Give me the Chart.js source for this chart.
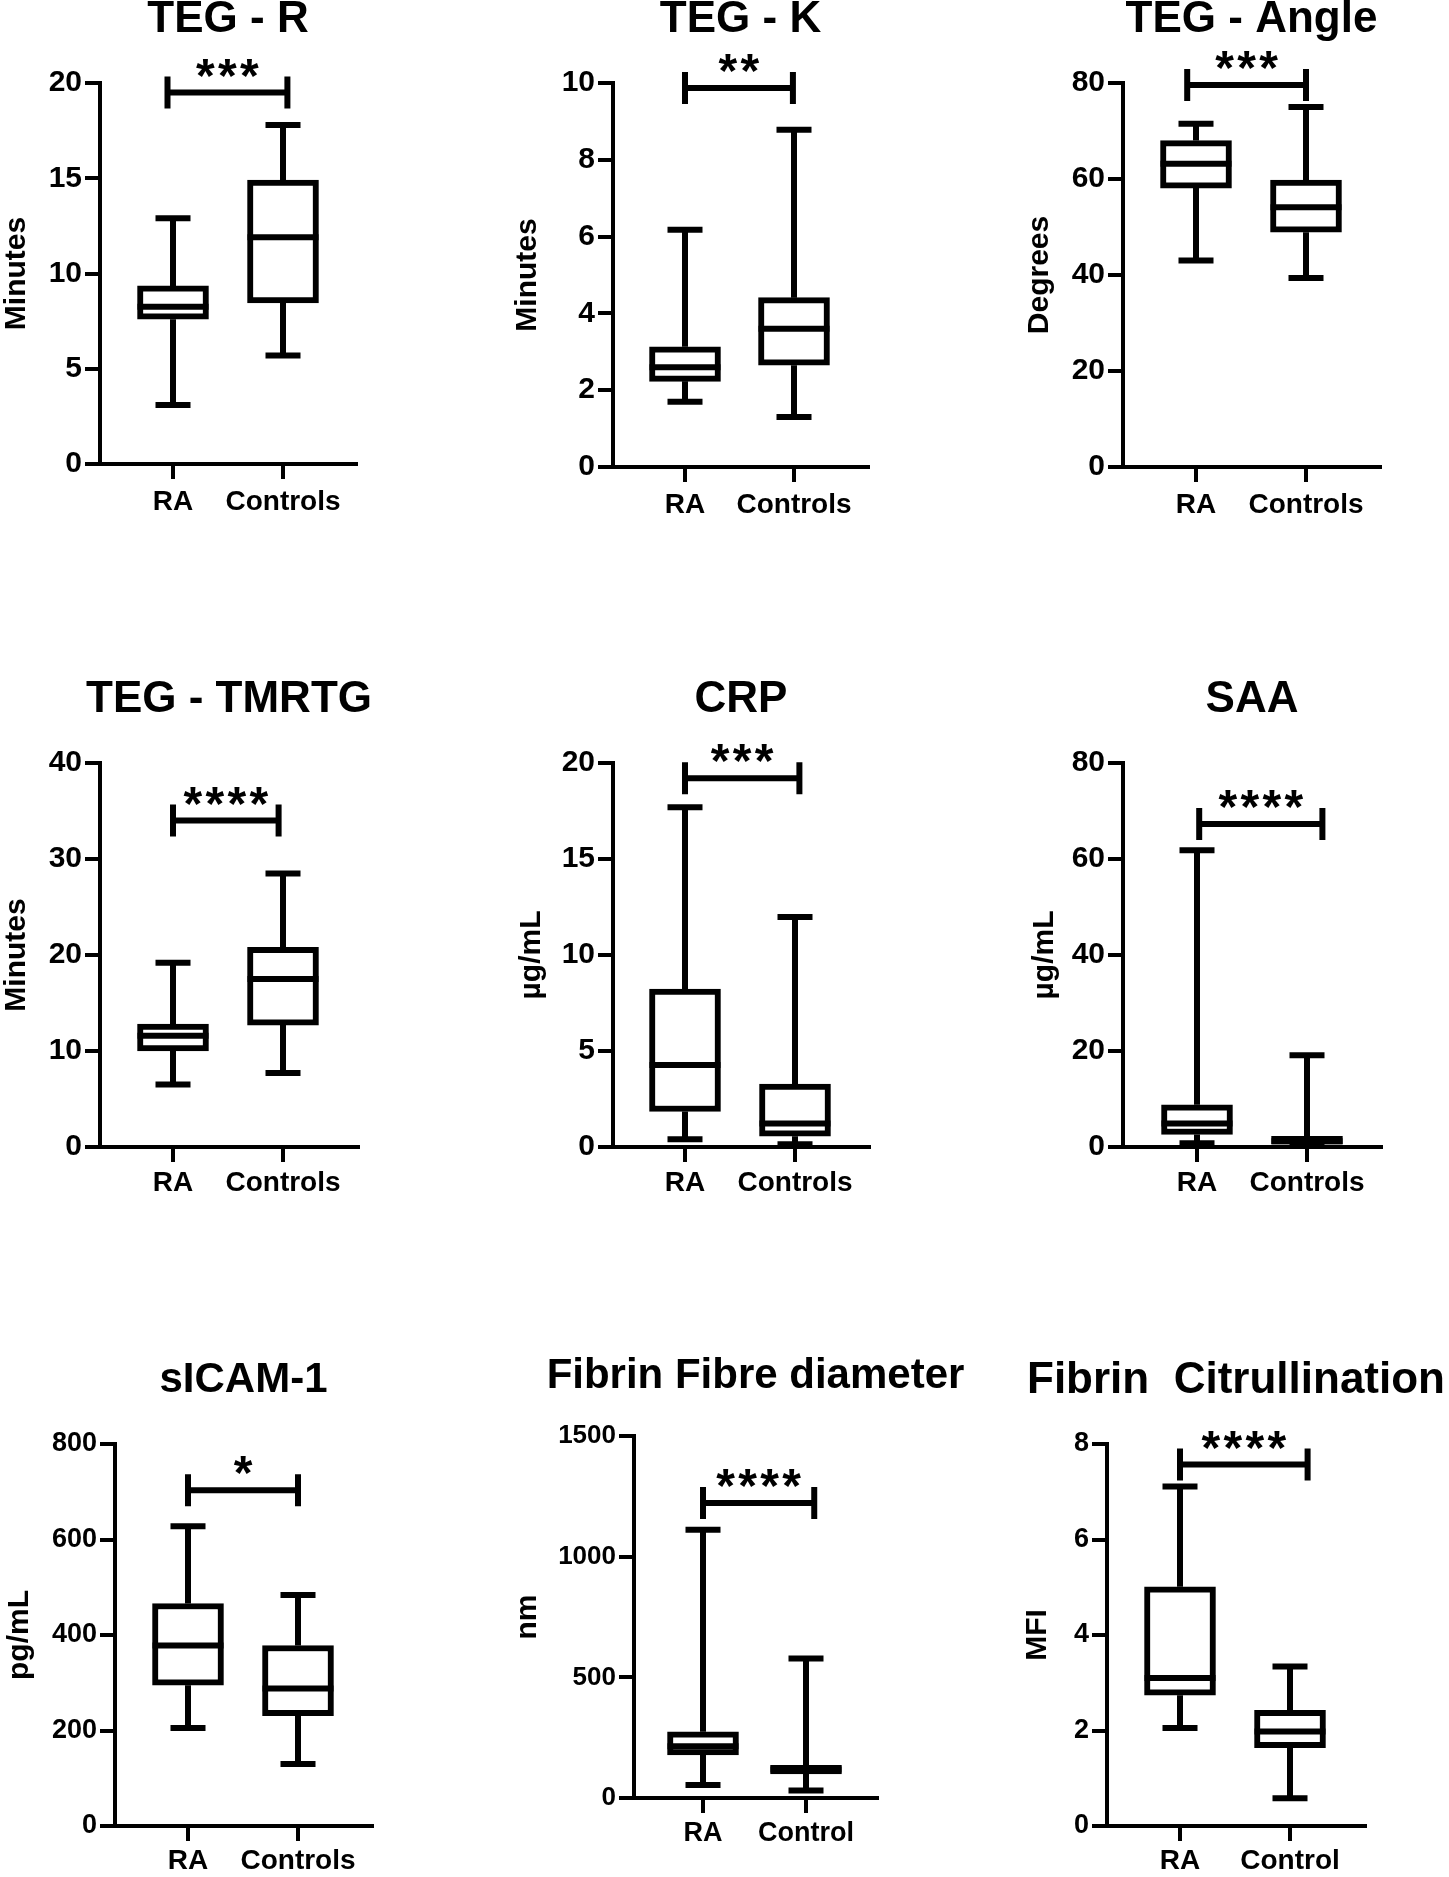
<!DOCTYPE html>
<html>
<head>
<meta charset="utf-8">
<script src="https://cdn.jsdelivr.net/npm/chart.js@4.4.1/dist/chart.umd.min.js"></script>
<style>
  html, body { margin: 0; padding: 0; background: #fff; }
  #page { position: relative; width: 1449px; height: 1877px; overflow: hidden; }
  canvas { position: absolute; }
</style>
</head>
<body>
<div id="page"></div>
<script>
// ---- data ----
const panelTitles = ['TEG - R', 'TEG - K', 'TEG - Angle', 'TEG - TMRTG', 'CRP', 'SAA',
  'sICAM-1', 'Fibrin Fibre diameter', 'Fibrin  Citrullination'];
const axisTitles = ['Minutes', 'Minutes', 'Degrees', 'Minutes', 'µg/mL', 'µg/mL', 'pg/mL', 'nm', 'MFI'];
const groupLabels = [
  ['RA', 'Controls'], ['RA', 'Controls'], ['RA', 'Controls'],
  ['RA', 'Controls'], ['RA', 'Controls'], ['RA', 'Controls'],
  ['RA', 'Controls'], ['RA', 'Control'], ['RA', 'Control']
];
const yMax = [20, 10, 80, 40, 20, 80, 800, 1500, 8];
const yStep = [5, 2, 20, 10, 5, 20, 200, 500, 2];

// [min, Q1, median, Q3, max]
const raBox = [
  [3.1, 7.6, 8.25, 9.35, 12.9],
  [1.7, 2.23, 2.6, 3.13, 6.18],
  [43.0, 58.1, 63.2, 68.0, 71.5],
  [6.5, 10.0, 11.6, 12.8, 19.2],
  [0.41, 1.85, 4.27, 8.22, 17.7],
  [0.8, 2.6, 4.9, 8.8, 61.8],
  [205, 295, 378, 466, 628],
  [54, 178, 214, 274, 1112],
  [2.05, 2.74, 3.10, 5.01, 7.11]
];
const ctlBox = [
  [5.7, 8.45, 11.9, 14.9, 17.8],
  [1.3, 2.65, 3.6, 4.41, 8.78],
  [39.4, 48.9, 54.1, 59.8, 75.0],
  [7.7, 12.7, 17.5, 20.8, 28.5],
  [0.14, 0.56, 1.22, 3.28, 11.98],
  [0.3, 0.6, 1.2, 2.2, 19.1],
  [130, 231, 288, 378, 484],
  [31, 100, 118, 135, 578],
  [0.58, 1.64, 1.98, 2.42, 3.34]
];
const sigStars = ['***', '**', '***', '****', '***', '****', '*', '****', '****'];
const sigLevel = [19.5, 9.87, 79.6, 34.0, 19.2, 67.3, 703, 1222, 7.57];

// ---- layout (page pixels) ----
const colLeft = [0, 483, 966];
const colWidth = 483;
const colBleed = 60;
const rowTop = [0, 640, 1320];
const rowHeight = [540, 580, 600];
const plotLeft = [100, 613, 1123, 100, 613, 1123, 115, 634, 1107];
const plotRight = [356, 868, 1380, 358, 869, 1381, 372, 877, 1365];
const plotTop = [83, 83, 83, 763, 763, 763, 1444, 1436, 1444];
const plotBottom = [464, 467, 467, 1147, 1147, 1147, 1826, 1798, 1826];
const cat1X = [173, 685, 1196, 173, 685, 1197, 188, 703, 1180];
const cat2X = [283, 794, 1306, 283, 795, 1307, 298, 806, 1290];
const yTitleX = [17, 528, 1040, 17, 532, 1045, 20, 528, 1038];
const titleBase = [32, 32, 32, 712, 712, 712, 1392, 1388, 1393];
const titleSize = [44, 44, 44, 44, 44, 44, 42, 42, 44];
const sigLeft = [0.95, 1.0, 0.92, 1.0, 1.0, 1.02, 1.0, 1.0, 1.0];
const sigRight = [2.04, 1.99, 2.0, 1.96, 2.04, 2.14, 2.0, 2.08, 2.16];
const tickSize = [30, 30, 30, 30, 30, 30, 27, 26, 27];
const catSize = [28, 28, 28, 28, 28, 28, 28, 27, 28];
const catGap = [6, 6, 6, 4, 4, 4, 3, 4, 3];

const FONT = "'Liberation Sans', Arial, Helvetica, sans-serif";
const LINE = 6;
const BOX_W = 71;
const CAP_W = 35;
const X_AXIS_H = 60;

// whiskers, medians, brackets and the panel title
const boxExtras = {
  id: 'boxExtras',
  beforeDatasetsDraw(chart, args, opts) {
    const ctx = chart.ctx, x = chart.scales.x, y = chart.scales.y;
    ctx.save();
    ctx.strokeStyle = '#000';
    ctx.lineWidth = LINE;
    ctx.lineCap = 'butt';
    opts.boxes.forEach(function (b, i) {
      const cx = x.getPixelForValue(i + 1);
      ctx.beginPath();
      ctx.moveTo(cx, y.getPixelForValue(b[3]));
      ctx.lineTo(cx, y.getPixelForValue(b[4]));
      ctx.moveTo(cx, y.getPixelForValue(b[1]));
      ctx.lineTo(cx, y.getPixelForValue(b[0]));
      ctx.stroke();
      [b[0], b[4]].forEach(function (v) {
        const py = y.getPixelForValue(v);
        ctx.beginPath();
        ctx.moveTo(cx - CAP_W / 2, py);
        ctx.lineTo(cx + CAP_W / 2, py);
        ctx.stroke();
      });
    });
    ctx.restore();
  },
  afterDatasetsDraw(chart, args, opts) {
    const ctx = chart.ctx, x = chart.scales.x, y = chart.scales.y;
    const area = chart.chartArea;
    ctx.save();
    ctx.strokeStyle = '#000';
    ctx.fillStyle = '#000';
    ctx.lineWidth = LINE;
    opts.boxes.forEach(function (b, i) {
      const cx = x.getPixelForValue(i + 1);
      const py = y.getPixelForValue(b[2]);
      ctx.beginPath();
      ctx.moveTo(cx - BOX_W / 2, py);
      ctx.lineTo(cx + BOX_W / 2, py);
      ctx.stroke();
    });
    // significance bracket
    const x1 = x.getPixelForValue(opts.sigL);
    const x2 = x.getPixelForValue(opts.sigR);
    const sy = y.getPixelForValue(opts.level);
    ctx.beginPath();
    ctx.moveTo(x1, sy); ctx.lineTo(x2, sy);
    ctx.moveTo(x1, sy - 16); ctx.lineTo(x1, sy + 16);
    ctx.moveTo(x2, sy - 16); ctx.lineTo(x2, sy + 16);
    ctx.stroke();
    ctx.font = 'bold 48px ' + FONT;
    ctx.textAlign = 'center';
    ctx.textBaseline = 'alphabetic';
    const n = opts.stars.length, mid = (x1 + x2) / 2;
    for (let k = 0; k < n; k++) {
      ctx.fillText('*', mid + (k - (n - 1) / 2) * 22, sy - 1);
    }
    // panel title
    ctx.font = 'bold ' + opts.titleSize + 'px ' + FONT;
    ctx.fillText(opts.title, (area.left + area.right) / 2, opts.titleY);
    ctx.restore();
  }
};

const page = document.getElementById('page');

for (let i = 0; i < 9; i++) {
  const col = i % 3, row = Math.floor(i / 3);
  const cLeft = Math.max(0, colLeft[col] - colBleed);
  const cRight = Math.min(1449, colLeft[col] + colWidth + colBleed);
  const cW = cRight - cLeft;
  const cTop = rowTop[row], cH = rowHeight[row];
  const canvas = document.createElement('canvas');
  canvas.width = cW;
  canvas.height = cH;
  canvas.style.left = cLeft + 'px';
  canvas.style.top = cTop + 'px';
  canvas.style.width = cW + 'px';
  canvas.style.height = cH + 'px';
  page.appendChild(canvas);

  const boxLeft = yTitleX[i] - 18;
  const yWidth = plotLeft[i] - boxLeft;
  const unit = cat2X[i] - cat1X[i];
  const xMin = 1 - (cat1X[i] - plotLeft[i]) / unit;
  const xMax = 2 + (plotRight[i] - cat2X[i]) / unit;
  const labels = groupLabels[i];
  const boxes = [raBox[i], ctlBox[i]];

  new Chart(canvas.getContext('2d'), {
    type: 'bar',
    data: {
      datasets: [{
        data: boxes.map(function (b, k) { return { x: k + 1, y: [b[1], b[3]] }; }),
        backgroundColor: '#fff',
        borderColor: '#000',
        borderWidth: LINE,
        borderSkipped: false,
        barThickness: BOX_W,
        clip: false
      }]
    },
    plugins: [boxExtras],
    options: {
      responsive: false,
      animation: false,
      devicePixelRatio: 1,
      events: [],
      layout: {
        padding: {
          left: boxLeft - cLeft,
          top: plotTop[i] - cTop,
          right: cRight - plotRight[i],
          bottom: cTop + cH - plotBottom[i] - X_AXIS_H
        }
      },
      plugins: {
        legend: { display: false },
        tooltip: { enabled: false },
        boxExtras: {
          boxes: boxes,
          stars: sigStars[i],
          level: sigLevel[i],
          sigL: sigLeft[i],
          sigR: sigRight[i],
          title: panelTitles[i],
          titleSize: titleSize[i],
          titleY: titleBase[i] - cTop
        }
      },
      scales: {
        x: {
          type: 'linear',
          offset: false,
          min: xMin,
          max: xMax,
          afterBuildTicks: function (s) { s.ticks = [{ value: 1 }, { value: 2 }]; },
          afterFit: function (s) { s.height = X_AXIS_H; },
          ticks: {
            autoSkip: false,
            maxRotation: 0,
            padding: catGap[i],
            color: '#000',
            font: { family: FONT, size: catSize[i], weight: 'bold' },
            callback: function (v) { return labels[Math.round(v) - 1]; }
          },
          grid: { offset: false, drawOnChartArea: false, drawTicks: true, tickLength: 15, lineWidth: 4, color: '#000' },
          border: { display: true, width: 4, color: '#000' }
        },
        y: {
          min: 0,
          max: yMax[i],
          afterFit: function (s) { s.width = yWidth; },
          ticks: {
            stepSize: yStep[i],
            padding: 3,
            color: '#000',
            font: { family: FONT, size: tickSize[i], weight: 'bold' },
            callback: function (v) { return String(v); }
          },
          grid: { drawOnChartArea: false, drawTicks: true, tickLength: 15, lineWidth: 4, color: '#000' },
          border: { display: true, width: 4, color: '#000' },
          title: {
            display: true,
            text: axisTitles[i],
            color: '#000',
            padding: 0,
            font: { family: FONT, size: 30, weight: 'bold' }
          }
        }
      }
    }
  });
}
</script>
</body>
</html>
